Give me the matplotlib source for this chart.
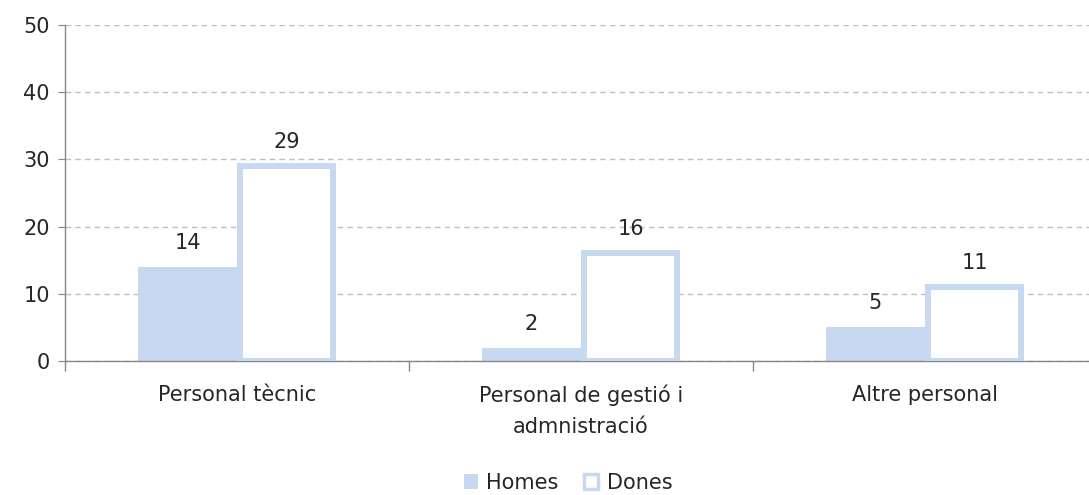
import numpy as np
import matplotlib.pyplot as plt
from matplotlib.patches import Patch

categories = ["Personal tècnic", "Personal de gestió i\nadmnistració", "Altre personal"]
homes = [14, 2, 5]
dones = [29, 16, 11]
series_names = ["Homes", "Dones"]
yticks = [0, 10, 20, 30, 40, 50]

blue = "#C6D9F1"
txt = "#262626"
plt.rcParams["font.family"] = ["DejaVu Sans"]

fig = plt.figure(figsize=(10.89, 4.95), dpi=100)
ax = fig.add_axes([65 / 1089, 1 - 361 / 495, 1032 / 1089, 336 / 495])

x = np.arange(len(categories))
w = 0.288
lw_px = 6
w2 = w - lw_px / 344  # outline is centred on the edge, so shrink to keep outer width

b1 = ax.bar(x - w / 2, homes, width=w, color=blue, edgecolor="none", zorder=2)
b2 = ax.bar(x + w / 2, dones, width=w2, color="white",
            edgecolor=blue, linewidth=lw_px * 0.72, zorder=3)

for bars, vals in ((b1, homes), (b2, dones)):
    for r, v in zip(bars, vals):
        ax.annotate(str(v), (r.get_x() + r.get_width() / 2, v), xytext=(0, 18),
                    textcoords="offset pixels", ha="center", va="baseline",
                    fontsize=15, color=txt)

ax.set_xlim(-0.5, 2.5)
ax.set_ylim(0, 50)
ax.set_yticks(yticks)
ax.yaxis.grid(True, linestyle=(0, (4, 3)), color="#BFBFBF", linewidth=1)
ax.set_axisbelow(True)

ax.set_xticks(x)
ax.set_xticklabels(categories, fontsize=15, color=txt, linespacing=1.65)
ax.set_xticks([-0.5, 0.5, 1.5], minor=True)
ax.tick_params(axis="x", which="major", length=0, pad=17)
ax.tick_params(axis="x", which="minor", length=7, color="#868686", width=1)
ax.tick_params(axis="y", length=5, color="#868686", labelsize=15, labelcolor=txt, pad=6)

for s in ("top", "right"):
    ax.spines[s].set_visible(False)
for s in ("left", "bottom"):
    ax.spines[s].set_color("#868686")
    ax.spines[s].set_linewidth(1)

handles = [Patch(facecolor=blue, edgecolor="none"),
           Patch(facecolor="white", edgecolor=blue, linewidth=2.5)]
fig.legend(handles, series_names, loc="center", bbox_to_anchor=(568 / 1089, 1 - 483 / 495),
           ncol=2, frameon=False, fontsize=15, handlelength=0.7, handleheight=0.7,
           handletextpad=0.4, columnspacing=1.2, labelcolor=txt)

fig.savefig("out.png", dpi=100)
